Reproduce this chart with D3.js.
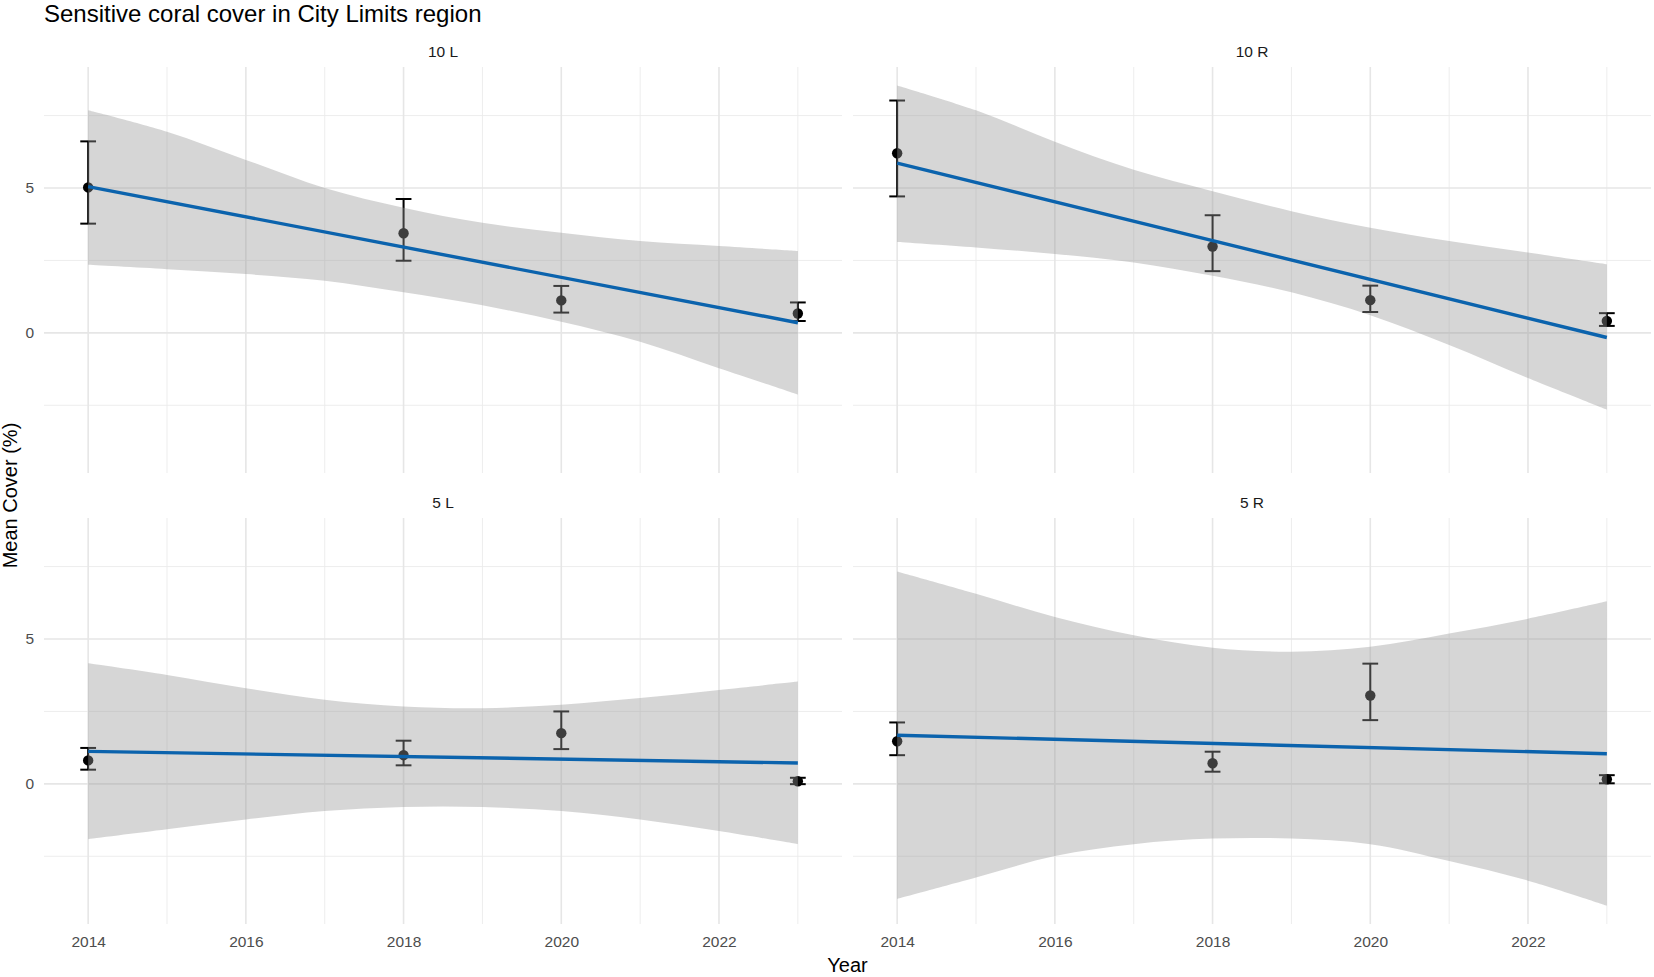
<!DOCTYPE html>
<meta charset="utf-8">
<style>
  body { margin: 0; background: #fff; }
  svg text { font-family: "Liberation Sans", Arial, sans-serif; }
</style>
<script src="https://d3js.org/d3.v7.min.js"></script>
<svg width="1654" height="977"></svg>
<script>
// values
const panels = ["10 L", "10 R", "5 L", "5 R"];
const years = [2014, 2018, 2020, 2023];
const meanCover = [
  [5.02, 3.44, 1.12, 0.67],
  [6.20, 2.98, 1.13, 0.41],
  [0.81, 0.99, 1.75, 0.09],
  [1.47, 0.71, 3.05, 0.16]
];
const errLow = [
  [3.77, 2.49, 0.70, 0.41],
  [4.71, 2.13, 0.72, 0.24],
  [0.49, 0.64, 1.20, -0.01],
  [0.99, 0.42, 2.20, 0.02]
];
const errHigh = [
  [6.61, 4.62, 1.62, 1.05],
  [8.02, 4.06, 1.63, 0.68],
  [1.24, 1.49, 2.50, 0.21],
  [2.12, 1.11, 4.15, 0.30]
];
const fitYears = [2014, 2023];
const fitLine = [
  [5.05, 0.35],
  [5.86, -0.16],
  [1.12, 0.72],
  [1.68, 1.04]
];
const bandYears = [2014, 2015, 2016, 2017, 2018, 2019, 2020, 2021, 2022, 2023];
const bandUpper = [
  [7.68, 6.94, 5.97, 5.00, 4.32, 3.80, 3.46, 3.17, 3.00, 2.83],
  [8.54, 7.68, 6.60, 5.63, 4.89, 4.20, 3.63, 3.17, 2.77, 2.37],
  [4.16, 3.76, 3.30, 2.90, 2.67, 2.61, 2.73, 2.96, 3.24, 3.53],
  [7.33, 6.56, 5.76, 5.13, 4.70, 4.56, 4.73, 5.19, 5.70, 6.30]
];
const bandLower = [
  [2.35, 2.20, 2.03, 1.80, 1.40, 0.95, 0.38, -0.31, -1.22, -2.13],
  [3.14, 2.95, 2.72, 2.43, 1.97, 1.40, 0.61, -0.42, -1.56, -2.65],
  [-1.91, -1.57, -1.23, -0.94, -0.80, -0.80, -0.94, -1.23, -1.63, -2.08],
  [-3.97, -3.23, -2.49, -2.08, -1.89, -1.89, -2.08, -2.66, -3.34, -4.20]
];
const xTicks = [2014, 2016, 2018, 2020, 2022];
const xMinor = [2015, 2017, 2019, 2021, 2023];
const yTicks = [0, 5];
const yMinor = [-2.5, 2.5, 7.5];

const svg = d3.select('svg');
const colX = [44, 853], rowY = [67, 518];
const pw = 798, ph = 406;
const lineColor = "#0b63ad";

// ggplot style 5% expansion, errorbar width 0.2 widens x range
const xLo = d3.min(years) - 0.1, xHi = d3.max(years) + 0.1;
const xPad = (xHi - xLo) * 0.05;
const x = d3.scaleLinear().domain([xLo - xPad, xHi + xPad]).range([0, pw]);

const allY = [bandUpper, bandLower, errLow, errHigh].flat(2);
const yLo = d3.min(allY), yHi = d3.max(allY);
const yPad = (yHi - yLo) * 0.05;
const y = d3.scaleLinear().domain([yLo - yPad, yHi + yPad]).range([ph, 0]);

svg.append('text')
  .attr('x', 44).attr('y', 22)
  .attr('font-size', 24).attr('fill', '#000')
  .text('Sensitive coral cover in City Limits region');

panels.forEach((name, i) => {
  const col = i % 2, row = Math.floor(i / 2);
  const g = svg.append('g').attr('transform', `translate(${colX[col]},${rowY[row]})`);

  // grid
  g.selectAll('.ymin').data(yMinor).join('line')
    .attr('x1', 0).attr('x2', pw).attr('y1', d => y(d)).attr('y2', d => y(d))
    .attr('stroke', '#ebebeb').attr('stroke-width', 0.9);
  g.selectAll('.xmin').data(xMinor).join('line')
    .attr('y1', 0).attr('y2', ph).attr('x1', d => x(d)).attr('x2', d => x(d))
    .attr('stroke', '#ebebeb').attr('stroke-width', 0.9);
  g.selectAll('.ymaj').data(yTicks).join('line')
    .attr('x1', 0).attr('x2', pw).attr('y1', d => y(d)).attr('y2', d => y(d))
    .attr('stroke', '#e6e6e6').attr('stroke-width', 1.6);
  g.selectAll('.xmaj').data(xTicks).join('line')
    .attr('y1', 0).attr('y2', ph).attr('x1', d => x(d)).attr('x2', d => x(d))
    .attr('stroke', '#e6e6e6').attr('stroke-width', 1.6);

  // strip label
  svg.append('text')
    .attr('x', colX[col] + pw / 2).attr('y', rowY[row] - 10)
    .attr('text-anchor', 'middle').attr('font-size', 15.5).attr('fill', '#1a1a1a')
    .text(name);

  const pts = years.map((yr, j) => ({yr, v: meanCover[i][j], lo: errLow[i][j], hi: errHigh[i][j]}));

  // error bars
  const eb = g.append('g').attr('stroke', '#000').attr('stroke-width', 2).attr('fill', 'none');
  pts.forEach(p => {
    eb.append('line').attr('x1', x(p.yr)).attr('x2', x(p.yr)).attr('y1', y(p.lo)).attr('y2', y(p.hi));
    eb.append('line').attr('x1', x(p.yr - 0.1)).attr('x2', x(p.yr + 0.1)).attr('y1', y(p.lo)).attr('y2', y(p.lo));
    eb.append('line').attr('x1', x(p.yr - 0.1)).attr('x2', x(p.yr + 0.1)).attr('y1', y(p.hi)).attr('y2', y(p.hi));
  });
  g.selectAll('circle').data(pts).join('circle')
    .attr('cx', d => x(d.yr)).attr('cy', d => y(d.v)).attr('r', 5.2)
    .attr('fill', '#000');

  // smooth ribbon + fit
  const band = bandYears.map((yr, j) => ({yr, lo: bandLower[i][j], hi: bandUpper[i][j]}));
  g.append('path').datum(band)
    .attr('d', d3.area().curve(d3.curveCatmullRom.alpha(0.5))
      .x(d => x(d.yr)).y0(d => y(d.lo)).y1(d => y(d.hi)))
    .attr('fill', '#999999').attr('fill-opacity', 0.4);

  g.append('path').datum(fitYears.map((yr, j) => ({yr, v: fitLine[i][j]})))
    .attr('d', d3.line().x(d => x(d.yr)).y(d => y(d.v)))
    .attr('stroke', lineColor).attr('stroke-width', 3.4).attr('fill', 'none');

  // axes
  if (col === 0) {
    const ay = g.append('g').call(d3.axisLeft(y).tickValues(yTicks).tickSize(0).tickPadding(10).tickFormat(d3.format('d')));
    ay.select('.domain').remove();
    ay.selectAll('text').attr('font-size', 15.5).attr('fill', '#4d4d4d').style('font-family', '"Liberation Sans", Arial, sans-serif');
  }
  if (row === 1) {
    const ax = g.append('g').attr('transform', `translate(0,${ph})`)
      .call(d3.axisBottom(x).tickValues(xTicks).tickSize(0).tickPadding(12).tickFormat(d3.format('d')));
    ax.select('.domain').remove();
    ax.selectAll('text').attr('font-size', 15.5).attr('fill', '#4d4d4d').style('font-family', '"Liberation Sans", Arial, sans-serif');
  }
});

svg.append('text')
  .attr('x', (colX[0] + colX[1] + pw) / 2).attr('y', 972)
  .attr('text-anchor', 'middle').attr('font-size', 20).attr('fill', '#000')
  .text('Year');

svg.append('text')
  .attr('transform', `translate(17,${(rowY[0] + rowY[1] + ph) / 2}) rotate(-90)`)
  .attr('text-anchor', 'middle').attr('font-size', 20).attr('fill', '#000')
  .text('Mean Cover (%)');
</script>
